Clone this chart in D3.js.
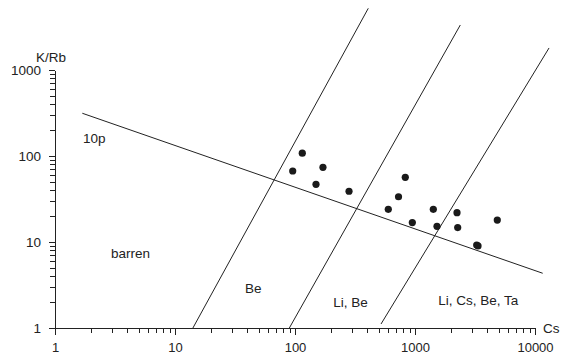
<!DOCTYPE html>
<head>
    <meta charset="utf-8">
    <script src="https://d3js.org/d3.v7.min.js"></script>
    <style>
      body { margin: 0; background: #fff; }
      .axis path, .axis line { fill: none; stroke: #222; shape-rendering: crispEdges; }
      .axis text, .lbl { font-family: "Liberation Sans", Arial, sans-serif; font-size: 13.5px; fill: #222; }
      .x.axis text { font-size: 13px; }
    </style>
</head>
<body>
    <div class="chart"></div>
    <script>
      // samples: Cs (ppm) vs K/Rb
      var csValues  = [95.7, 115, 149.6, 171, 282, 599, 729, 830, 950, 1421, 1525, 2239, 2269, 3266, 3350, 4850];
      var kRbValues = [66.9, 108, 46.9, 73.9, 38.9, 24.0, 33.6, 56.5, 16.8, 24.0, 15.2, 21.9, 14.7, 9.23, 9.0, 18.0];

      // boundary lines, [Cs, K/Rb] end points
      var line10p   = [[1.689, 314], [11590, 4.33]];
      var lineBe    = [[14.1, 1], [408, 5215]];
      var lineLiBe  = [[89.7, 1], [2385, 3337]];
      var lineLiCs  = [[521, 1.113], [13090, 1803]];

      var xMajor = [1, 10, 100, 1000, 10000];
      var yMajor = [1, 10, 100, 1000];

      var width = 561, height = 356;

      var x = d3.scaleLog().domain([1, 10000]).range([55, 535]);
      var y = d3.scaleLog().domain([1, 1000]).range([328, 70]);

      var svg = d3.select('.chart').append('svg')
          .attr('width', width)
          .attr('height', height);

      function minorTicks(majors) {
          var t = [];
          majors.forEach(function(m, i) {
              if (i == majors.length - 1) { t.push(m); return; }
              for (var k = 1; k < 10; k++) t.push(m * k);
          });
          return t;
      }

      // x axis: minor ticks then major ticks with labels
      svg.append('g').attr('class', 'x axis')
          .attr('transform', 'translate(0,328)')
          .call(d3.axisBottom(x).tickValues(minorTicks(xMajor)).tickSize(5).tickSizeOuter(0).tickFormat(''));
      svg.append('g').attr('class', 'x axis')
          .attr('transform', 'translate(0,328)')
          .call(d3.axisBottom(x).tickValues(xMajor).tickSize(7).tickSizeOuter(0).tickPadding(8).tickFormat(d3.format('d')))
          .select('.domain').remove();

      svg.append('g').attr('class', 'y axis')
          .attr('transform', 'translate(55,0)')
          .call(d3.axisLeft(y).tickValues(minorTicks(yMajor)).tickSize(5).tickSizeOuter(0).tickFormat(''));
      svg.append('g').attr('class', 'y axis')
          .attr('transform', 'translate(55,0)')
          .call(d3.axisLeft(y).tickValues(yMajor).tickSize(6).tickSizeOuter(0).tickPadding(8).tickFormat(d3.format('d')))
          .select('.domain').remove();

      svg.append('text').attr('class', 'lbl').attr('x', 36).attr('y', 62).text('K/Rb');
      svg.append('text').attr('class', 'lbl').attr('x', 543).attr('y', 333).text('Cs');

      var line = d3.line()
          .x(function(d) { return x(d[0]); })
          .y(function(d) { return y(d[1]); });

      [line10p, lineBe, lineLiBe, lineLiCs].forEach(function(l) {
          svg.append('path')
              .attr('d', line(l))
              .attr('fill', 'none')
              .attr('stroke', '#222')
              .attr('stroke-width', 1);
      });

      svg.selectAll('circle')
          .data(csValues)
          .enter().append('circle')
          .attr('cx', function(d) { return x(d); })
          .attr('cy', function(d, i) { return y(kRbValues[i]); })
          .attr('r', 3.6)
          .attr('fill', '#1a1a1a');

      // field names
      var fields = [
          {t: '10p', cs: 1.71, k: 141.6},
          {t: 'barren', cs: 2.93, k: 6.51},
          {t: 'Be', cs: 38.3, k: 2.55},
          {t: 'Li, Be', cs: 208.5, k: 1.75},
          {t: 'Li, Cs, Be, Ta', cs: 1564, k: 1.85}
      ];
      svg.selectAll('.fld')
          .data(fields)
          .enter().append('text')
          .attr('class', 'lbl fld')
          .attr('x', function(d) { return x(d.cs); })
          .attr('y', function(d) { return y(d.k); })
          .text(function(d) { return d.t; });
    </script>
</body>
